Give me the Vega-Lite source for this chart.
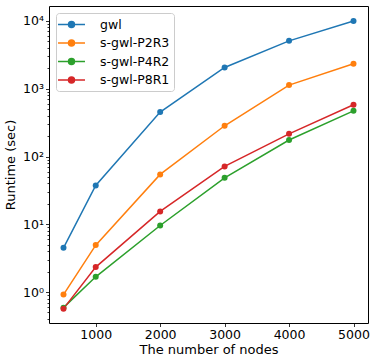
{
  "$schema": "https://vega.github.io/schema/vega-lite/v6.json",
  "width": 319,
  "height": 317,
  "autosize": {"type": "none"},
  "padding": {"left": 49, "top": 6, "right": 6, "bottom": 36},
  "config": {
    "view": {"stroke": "#000", "strokeWidth": 1},
    "font": "DejaVu Sans",
    "axis": {"grid": false, "domain": false, "labelColor": "#000", "titleColor": "#000", "tickColor": "#000", "titleFontWeight": "normal", "labelFontSize": 12.5, "titleFontSize": 13, "tickWidth": 0.8}
  },
  "data": {
    "values": [
      {"nodes": 500, "runtime": 4.5, "method": "gwl"},
      {"nodes": 1000, "runtime": 37.5, "method": "gwl"},
      {"nodes": 2000, "runtime": 452, "method": "gwl"},
      {"nodes": 3000, "runtime": 2060, "method": "gwl"},
      {"nodes": 4000, "runtime": 5080, "method": "gwl"},
      {"nodes": 5000, "runtime": 9950, "method": "gwl"},
      {"nodes": 500, "runtime": 0.92, "method": "s-gwl-P2R3"},
      {"nodes": 1000, "runtime": 4.93, "method": "s-gwl-P2R3"},
      {"nodes": 2000, "runtime": 54.4, "method": "s-gwl-P2R3"},
      {"nodes": 3000, "runtime": 284, "method": "s-gwl-P2R3"},
      {"nodes": 4000, "runtime": 1130, "method": "s-gwl-P2R3"},
      {"nodes": 5000, "runtime": 2330, "method": "s-gwl-P2R3"},
      {"nodes": 500, "runtime": 0.59, "method": "s-gwl-P4R2"},
      {"nodes": 1000, "runtime": 1.68, "method": "s-gwl-P4R2"},
      {"nodes": 2000, "runtime": 9.6, "method": "s-gwl-P4R2"},
      {"nodes": 3000, "runtime": 48.5, "method": "s-gwl-P4R2"},
      {"nodes": 4000, "runtime": 175, "method": "s-gwl-P4R2"},
      {"nodes": 5000, "runtime": 472, "method": "s-gwl-P4R2"},
      {"nodes": 500, "runtime": 0.57, "method": "s-gwl-P8R1"},
      {"nodes": 1000, "runtime": 2.34, "method": "s-gwl-P8R1"},
      {"nodes": 2000, "runtime": 15.5, "method": "s-gwl-P8R1"},
      {"nodes": 3000, "runtime": 71.4, "method": "s-gwl-P8R1"},
      {"nodes": 4000, "runtime": 216, "method": "s-gwl-P8R1"},
      {"nodes": 5000, "runtime": 579, "method": "s-gwl-P8R1"}
    ]
  },
  "mark": {"type": "line", "strokeWidth": 1.5, "point": {"filled": true, "size": 36, "opacity": 1}},
  "encoding": {
    "x": {
      "field": "nodes", "type": "quantitative",
      "scale": {"domain": [275, 5225], "nice": false, "zero": false},
      "axis": {"values": [1000, 2000, 3000, 4000, 5000], "format": "d", "title": "The number of nodes", "tickSize": 3.5, "labelPadding": 2, "titlePadding": 2}
    },
    "y": {
      "field": "runtime", "type": "quantitative",
      "scale": {"type": "log", "domain": [0.35, 16600], "nice": false},
      "axis": {
        "values": [0.4, 0.5, 0.6, 0.7, 0.8, 0.9, 1, 2, 3, 4, 5, 6, 7, 8, 9, 10, 20, 30, 40, 50, 60, 70, 80, 90, 100, 200, 300, 400, 500, 600, 700, 800, 900, 1000, 2000, 3000, 4000, 5000, 6000, 7000, 8000, 9000, 10000],
        "labelExpr": "datum.value==1?'10⁰':datum.value==10?'10¹':datum.value==100?'10²':datum.value==1000?'10³':datum.value==10000?'10⁴':''",
        "labelOverlap": false,
        "tickSize": {"condition": {"test": "indexof([1,10,100,1000,10000], datum.value) >= 0", "value": 3.5}, "value": 2},
        "title": "Runtime (sec)", "labelPadding": 2, "titlePadding": 5
      }
    },
    "color": {
      "field": "method", "type": "nominal",
      "scale": {"domain": ["gwl", "s-gwl-P2R3", "s-gwl-P4R2", "s-gwl-P8R1"], "range": ["#1f77b4", "#ff7f0e", "#2ca02c", "#d62728"]},
      "legend": {
        "orient": "none", "legendX": 7, "legendY": 7, "title": null,
        "fillColor": "#fff", "strokeColor": "#ccc", "cornerRadius": 3, "padding": 4,
        "labelFontSize": 12.5, "labelColor": "#000",
        "symbolType": "M-2,0L2,0M0.44,0A0.44,0.44,0,1,1,-0.44,0A0.44,0.44,0,1,1,0.44,0Z",
        "symbolSize": 182, "symbolStrokeWidth": 1.5, "symbolOffset": 4, "rowPadding": 4.5, "labelOffset": 21,
        "encode": {"symbols": {"update": {"fill": {"scale": "color", "field": "value"}, "opacity": {"value": 1}}}}
      }
    }
  }
}
